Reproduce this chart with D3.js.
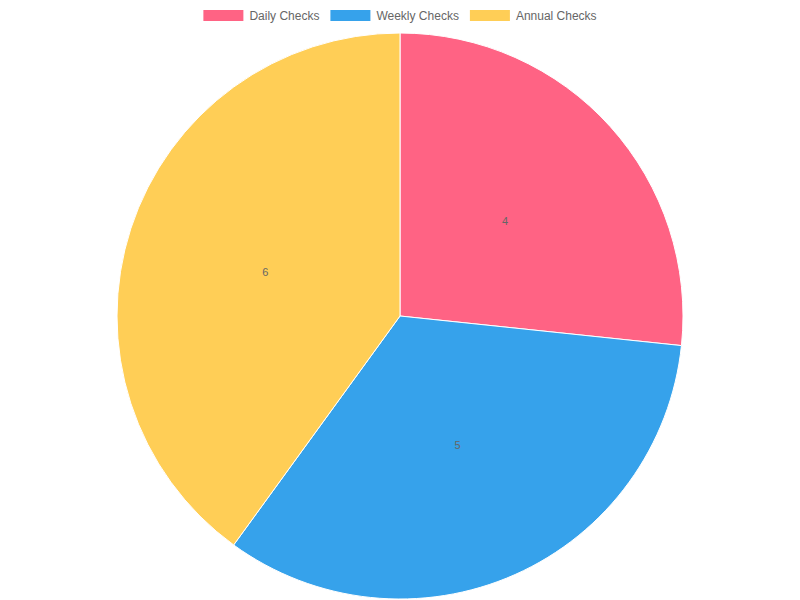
<!DOCTYPE html>
<html lang="en">
<head>
    <meta charset="UTF-8">
    <title>Checks Pie</title>
    <style>
        body { margin: 0; background: #fff; }
        text { font-family: "Liberation Sans", Arial, sans-serif; }
        .legend text { font-size: 12px; fill: #666; }
        .slice-label { font-size: 11px; fill: #666; }
    </style>
    <script src="https://d3js.org/d3.v7.min.js"></script>
</head>
<body>
<svg></svg>
<script>
    const categories = ["Daily Checks", "Weekly Checks", "Annual Checks"];
    const values = [4, 5, 6];
    const colors = ["#FF6384", "#36A2EB", "#FFCE56"];

    const width = 800, height = 600;
    const svg = d3.select("svg").attr("width", width).attr("height", height);

    const cx = 400, cy = 316, radius = 283;

    const pie = d3.pie().sort(null).value(d => d.value);
    const arc = d3.arc().innerRadius(0).outerRadius(radius);
    const labelArc = d3.arc().innerRadius(radius / 2).outerRadius(radius / 2);

    const data = categories.map((c, i) => ({ name: c, value: values[i], color: colors[i] }));

    const g = svg.append("g").attr("transform", `translate(${cx},${cy})`);

    g.selectAll("path")
        .data(pie(data))
        .enter().append("path")
        .attr("d", arc)
        .attr("fill", d => d.data.color)
        .attr("stroke", "#fff")
        .attr("stroke-width", 1);

    g.selectAll("text")
        .data(pie(data))
        .enter().append("text")
        .attr("class", "slice-label")
        .attr("transform", d => `translate(${labelArc.centroid(d)})`)
        .attr("text-anchor", "middle")
        .attr("dy", "0.35em")
        .text(d => d.data.value);

    // legend, centred row like the original
    const legend = svg.append("g").attr("class", "legend");
    const boxW = 40, gap = 6, itemGap = 11;
    const measure = svg.append("text").style("font-size", "12px").style("font-family", "Liberation Sans, Arial, sans-serif");
    const widths = categories.map(c => {
        measure.text(c);
        return boxW + gap + measure.node().getComputedTextLength();
    });
    measure.remove();
    const total = d3.sum(widths) + itemGap * (categories.length - 1);
    let x = (width - total) / 2;
    categories.forEach((c, i) => {
        const item = legend.append("g").attr("transform", `translate(${x},0)`);
        item.append("rect")
            .attr("x", 0).attr("y", 10)
            .attr("width", boxW).attr("height", 11)
            .attr("fill", colors[i]);
        item.append("text")
            .attr("x", boxW + gap).attr("y", 16)
            .attr("dy", "0.35em")
            .text(c);
        x += widths[i] + itemGap;
    });
</script>
</body>
</html>
